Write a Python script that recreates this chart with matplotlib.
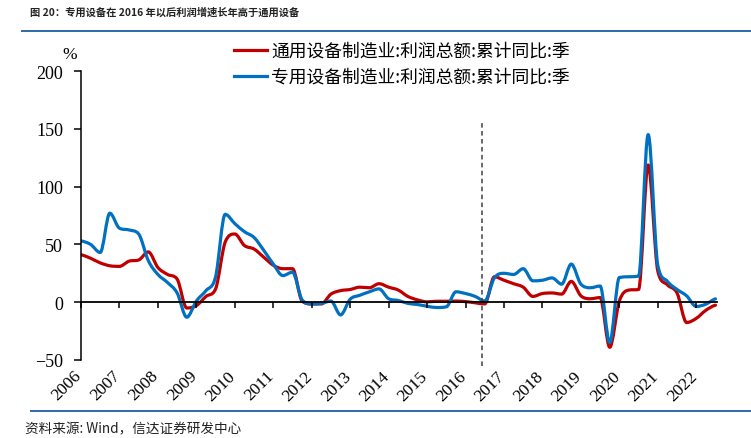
import numpy as np
import matplotlib
matplotlib.use('Agg')
import matplotlib.pyplot as plt
import matplotlib.transforms as mtransforms
from matplotlib.path import Path
from matplotlib.patches import PathPatch
from matplotlib.lines import Line2D

plt.rcParams['font.family'] = ['Liberation Serif', 'Noto Sans CJK SC', 'DejaVu Sans']

# quarterly cumulative YoY profit growth (%), first point at 2006
start_year = 2006
year_ticks = list(range(2006, 2023))
general_name = '通用设备制造业:利润总额:累计同比:季'
special_name = '专用设备制造业:利润总额:累计同比:季'
general = [41, 38, 34, 31.5, 31, 35.5, 36.5, 43.5, 30, 24, 20, -5,
           -3, 5, 11.5, 52, 59, 49, 46, 39, 32, 29, 29, 1,
           -1.5, -1.5, 7, 10, 11, 13, 12.5, 16, 13, 10.5, 5, 2,
           0.3, 0.8, 0.8, 1, 0.5, -0.5, -1.5, 22, 19, 16, 13, 5,
           7.5, 8, 7, 18, 5.5, 3, 4, -39, 1, 10.5, 11, 118.7,
           27, 15, 8, -17.6, -14, -7, -2.6]
special = [53, 50, 43, 77, 64, 62.5, 59, 36, 24, 17, 8, -13,
           1, 10, 22, 76, 68, 61, 56, 45, 33, 23, 26, 2,
           -1.5, -1, 1, -11, 2.6, 6, 9, 11.5, 3, 1.5, -1, -2,
           -3.5, -4.6, -4, 9, 7.5, 5, 1, 21, 25, 24, 29, 18.5,
           19, 21, 15.6, 33, 15.6, 12.5, 14, -35, 21.4, 22, 22.5, 145,
           32, 18, 11, 5.5, -3.7, -1.7, 2.9]
marker_year = 2016.44
marker_span = [-55, 155]

t = start_year + np.arange(len(general)) * 0.25


def smooth_path(xs, ys):
    # smoothed line through the points, tangents limited to avoid overshoot
    xs = np.asarray(xs, float)
    ys = np.asarray(ys, float)
    n = len(ys)
    d = np.diff(ys)
    m = np.zeros(n)
    for k in range(n):
        if k == 0:
            m[k] = d[0] / 2
        elif k == n - 1:
            m[k] = d[-1] / 2
        elif d[k - 1] * d[k] <= 0:
            m[k] = 0
        else:
            m[k] = (d[k - 1] + d[k]) / 2
            lim = 3 * min(abs(d[k - 1]), abs(d[k]))
            m[k] = np.sign(m[k]) * min(abs(m[k]), lim)
    h = xs[1] - xs[0]
    verts = [(xs[0], ys[0])]
    codes = [Path.MOVETO]
    for k in range(n - 1):
        verts += [(xs[k] + h / 3, ys[k] + m[k] / 3),
                  (xs[k + 1] - h / 3, ys[k + 1] - m[k + 1] / 3),
                  (xs[k + 1], ys[k + 1])]
        codes += [Path.CURVE4] * 3
    return Path(verts, codes)


fig = plt.figure(figsize=(7.51, 4.39), dpi=100)
ax = fig.add_axes([81 / 751, 78 / 439, 636.4 / 751, 289 / 439])

red = '#C00000'
blue = '#0070C0'
for vals, col in [(general, red), (special, blue)]:
    ax.add_patch(PathPatch(smooth_path(t, vals), fill=False, edgecolor=col,
                           lw=2.3, joinstyle='round', capstyle='round'))

ax.plot([marker_year, marker_year], marker_span, ls=(0, (3, 2.2)), color='#444444',
        lw=1.1, clip_on=False)

ax.spines['top'].set_visible(False)
ax.spines['right'].set_visible(False)
ax.spines['bottom'].set_position(('data', 0))
ax.spines['bottom'].set_linewidth(1.3)
ax.spines['left'].set_linewidth(1.1)

ax.set_xlim(2006, 2022.55)
ax.set_ylim(-50, 200)
ax.set_yticks([-50, 0, 50, 100, 150, 200])
ax.set_xticks(year_ticks)
ax.set_xticklabels([str(y) for y in year_ticks], rotation=45, ha='right', va='top')
ax.tick_params(axis='y', direction='out', length=5, width=1.1, labelsize=13, pad=8)
ax.tick_params(axis='x', direction='out', length=4, width=1.1, labelsize=12.5, pad=43)
shift = mtransforms.ScaledTranslation(4 / 100, 0, fig.dpi_scale_trans)
for lab in ax.get_xticklabels():
    lab.set_transform(lab.get_transform() + shift)

ax.text(-0.006, 1.06, '%', transform=ax.transAxes, fontsize=12.5, ha='right', va='center')

handles = [Line2D([], [], color=red, lw=2.3), Line2D([], [], color=blue, lw=2.3)]
ax.legend(handles, [general_name, special_name], loc='upper left',
          bbox_to_anchor=(234 / 751, 1 - 43 / 439), bbox_transform=fig.transFigure,
          frameon=False, handlelength=1.85, handletextpad=0.25,
          labelspacing=0.45, borderpad=0, borderaxespad=0,
          prop={'family': ['Noto Sans CJK SC'], 'size': 12.8})

fig.text(30 / 751, 1 - 13 / 439, '图 20：专用设备在 2016 年以后利润增速长年高于通用设备',
         fontsize=7.4, fontweight='bold', color='#222222', ha='left', va='center',
         family=['Noto Sans CJK SC', 'DejaVu Sans'])
fig.add_artist(Line2D([22 / 751, 1], [1 - 32 / 439, 1 - 32 / 439], color='#2f6aa8', lw=1.4))
fig.add_artist(Line2D([31 / 751, 1], [1 - 412 / 439, 1 - 412 / 439], color='#2f6aa8', lw=1.4))
fig.text(25 / 751, 1 - 429 / 439, '资料来源: Wind，信达证券研发中心', fontsize=9.8,
         style='italic', color='#222222', ha='left', va='center',
         family=['Noto Sans CJK SC', 'DejaVu Sans'])

fig.savefig('out.png', dpi=100)
